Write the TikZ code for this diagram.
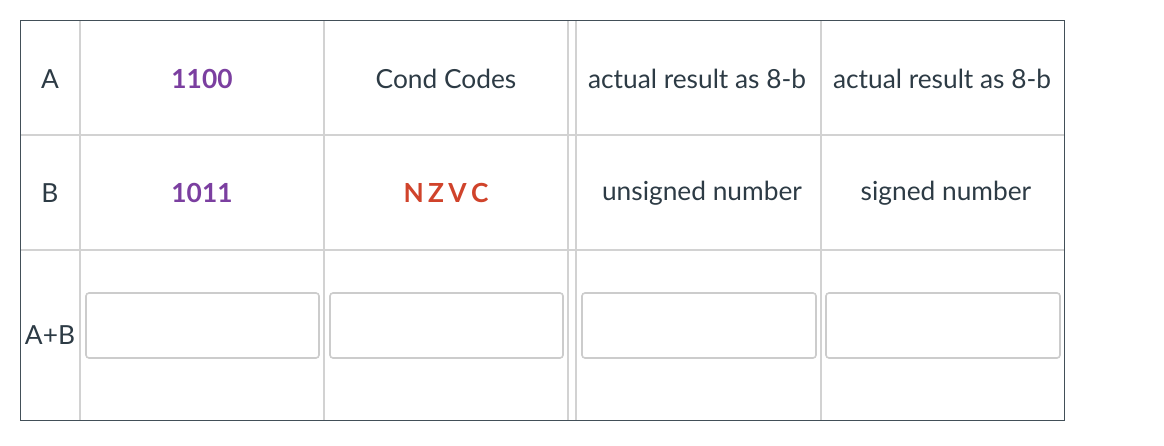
\documentclass[tikz,border=0pt]{standalone}
\usepackage{fontspec}
\setmainfont{Lato}
\definecolor{txt}{HTML}{2D3B45}
\definecolor{pur}{HTML}{7B3FA0}
\definecolor{red}{HTML}{D0432B}
\definecolor{grid}{HTML}{D2D2D2}
\definecolor{box}{HTML}{CCCCCC}
\begin{document}
\begin{tikzpicture}[x=1pt,y=-1pt,
  cell/.style={font=\fontsize{26.3}{30}\selectfont,text=txt,anchor=center,inner sep=0pt},
  val/.style={cell,text=pur,font=\fontsize{26.3}{30}\selectfont\bfseries},
  inbox/.style={draw=box,line width=1.6pt,rounded corners=3pt}]
\useasboundingbox (0,0) rectangle (1164,446);
\fill[white] (0,0) rectangle (1164,446);
% grid
\foreach \x in {80,324,568,576,821} \draw[grid,line width=1.6pt] (\x,21) -- (\x,420);
\foreach \y in {135,250} \draw[grid,line width=1.6pt] (20,\y) -- (1064,\y);
\draw[txt!90,line width=1pt] (20,21) rectangle (1064,420);
% row 1
\node[cell] (a) at (50,79) {A};
\node[val] (av) at (202,79) {1100};
\node[cell] (cc) at (446,79) {Cond Codes};
\node[cell] (r1) at (697,79) {actual result as 8-b};
\node[cell] (r2) at (942,79) {actual result as 8-b};
% row 2
\node[cell] (b) at (50,193) {B};
\node[val] (bv) at (202,193) {1011};
\node[cell,text=red,font=\fontsize{26.3}{30}\selectfont\bfseries] (nz) at (446,193) {N\,Z\,V\,C};
\node[cell] (un) at (702,193) {unsigned number};
\node[cell] (sn) at (946,193) {signed number};
% row 3
\node[cell] (ab) at (50,335) {A+B};
\draw[inbox] (86,293) rectangle (319,358);
\draw[inbox] (330,293) rectangle (563,358);
\draw[inbox] (582,293) rectangle (816,358);
\draw[inbox] (826,293) rectangle (1060,358);
\end{tikzpicture}
\end{document}
